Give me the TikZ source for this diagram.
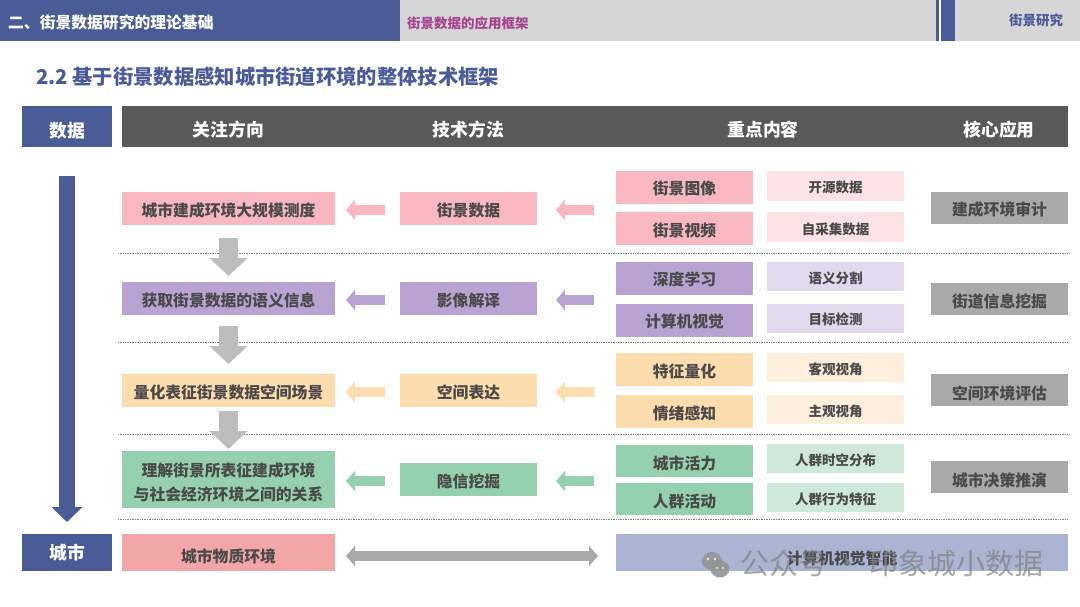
\documentclass[tikz,border=0pt]{standalone}
\usepackage{fontspec}
\setmainfont{Noto Sans CJK SC}
\usetikzlibrary{arrows.meta,calc}
\definecolor{cblue}{HTML}{4A5C97}
\definecolor{cbar}{HTML}{D6D6D6}
\definecolor{cdark}{HTML}{595959}
\definecolor{ctxt}{HTML}{4A4A4A}
\definecolor{cmag}{HTML}{A5458F}
\definecolor{cpink}{HTML}{F8B7C1}
\definecolor{cpinkl}{HTML}{FDE2E6}
\definecolor{cpur}{HTML}{B9A3D3}
\definecolor{cpurl}{HTML}{E3D9EF}
\definecolor{cora}{HTML}{FDDCAE}
\definecolor{coral}{HTML}{FEEEDC}
\definecolor{cgrn}{HTML}{95D1AE}
\definecolor{cgrnl}{HTML}{CEE9D9}
\definecolor{ccore}{HTML}{A9A9A9}
\definecolor{cred}{HTML}{F2A6A5}
\definecolor{cperi}{HTML}{ABB4D3}
\definecolor{cgarrow}{HTML}{BDBDBD}
\tikzset{
  bx/.style={inner sep=0pt,outer sep=0pt,align=center,text=ctxt,font=\fontsize{15.8}{24}\selectfont\bfseries},
  dy/.code={\def\bxdy{#1}},
  small/.style={font=\fontsize{13.5}{18}\selectfont\bfseries,dy=6pt},
  head/.style={text=white,font=\fontsize{17.8}{22}\selectfont\bfseries},
  blockarrow/.style={draw=#1,line width=9.5pt,-{Triangle[length=9pt,width=20pt,fill=#1]},shorten >=11pt,shorten <=15pt,transform canvas={yshift=-1.5pt}},
  blockarrowb/.style={draw=#1,line width=9.5pt,-{Triangle[length=9pt,width=20pt,fill=#1]},shorten >=19pt,shorten <=22pt,transform canvas={yshift=-1.5pt}},
  downarrow/.style={draw=cgarrow,line width=19pt,-{Triangle[length=18pt,width=37pt,fill=cgarrow]}},
  sep/.style={draw=gray,line width=0.7pt,densely dotted},
}
\newcommand{\bxn}[8]{\node[bx,dy=4pt,fill=#6,minimum width={(#4-#2)*1pt},minimum height={(#5-#3)*1pt},#7] (#1) at ({(#2+#4)/2},{(#3+#5)/2}) {\raisebox{\dimexpr-0.5\dimexpr\bxdy\relax-0.25em-1pt\relax}[0pt][0pt]{\begin{tabular}{@{}c@{}}#8\end{tabular}}};}
\begin{document}
\begin{tikzpicture}[x=1pt,y=-1pt]
\useasboundingbox (0,0) rectangle (1080,607);
% top bar
\bxn{barA}{0}{0}{400}{41}{cblue}{}{}
\bxn{barB}{400}{0}{936}{41}{cbar}{}{}
\bxn{barC}{936}{0}{939}{41}{cblue}{}{}
\bxn{barD}{941}{0}{955}{41}{cblue}{}{}
\bxn{barE}{955}{0}{1080}{41}{cbar}{}{}
\node[anchor=west,inner sep=0,text=white,font=\fontsize{15.8}{20}\selectfont\bfseries] (tA) at (8,22) {二、街景数据研究的理论基础};
\node[anchor=west,inner sep=0,text=cmag,font=\fontsize{13.5}{18}\selectfont\bfseries] (tB) at (407,23) {街景数据的应用框架};
\node[anchor=west,inner sep=0,text=cblue,font=\fontsize{13.5}{18}\selectfont\bfseries] (tE) at (1009,20) {街景研究};
\node[anchor=west,inner sep=0,text=cblue,font=\fontsize{20.3}{24}\selectfont\bfseries] (title) at (36,77) {2.2 基于街景数据感知城市街道环境的整体技术框架};
% header
\bxn{hData}{22}{106}{112}{147}{cblue}{head,dy=10pt}{数据}
\bxn{hBar}{122}{106}{1068}{147}{cdark}{}{}
\node[bx,head] (h1) at (228.5,130) {关注方向};
\node[bx,head] (h2) at (468.5,130) {技术方法};
\node[bx,head] (h3) at (763,130) {重点内容};
\node[bx,head] (h4) at (999,130) {核心应用};
% separators
\coordinate (s1a) at (118,253); \coordinate (s1b) at (1068,253);
\coordinate (s2a) at (118,342); \coordinate (s2b) at (1068,342);
\coordinate (s3a) at (118,434); \coordinate (s3b) at (1068,434);
\coordinate (s4a) at (118,519); \coordinate (s4b) at (1068,519);
\draw[sep] (s1a)--(s1b); \draw[sep] (s2a)--(s2b); \draw[sep] (s3a)--(s3b); \draw[sep] (s4a)--(s4b);
% row 1
\bxn{l1}{122}{192}{335}{225}{cpink}{}{城市建成环境大规模测度}
\bxn{t1}{400}{192}{537}{225}{cpink}{}{街景数据}
\bxn{a1}{616}{171}{753}{204}{cpink}{dy=2pt}{街景图像}
\bxn{b1}{616}{212}{753}{245}{cpink}{}{街景视频}
\bxn{c1}{767}{171}{904}{201}{cpinkl}{small,dy=4pt}{开源数据}
\bxn{d1}{767}{212}{904}{242}{cpinkl}{small}{自采集数据}
\bxn{e1}{931}{192}{1068}{224}{ccore}{dy=2pt}{建成环境审计}
% row 2
\bxn{l2}{122}{282}{335}{315}{cpur}{}{获取街景数据的语义信息}
\bxn{t2}{400}{282}{537}{315}{cpur}{}{影像解译}
\bxn{a2}{616}{262}{753}{295}{cpur}{dy=2pt}{深度学习}
\bxn{b2}{616}{304}{753}{337}{cpur}{dy=2pt}{计算机视觉}
\bxn{c2}{767}{262}{904}{291}{cpurl}{small}{语义分割}
\bxn{d2}{767}{304}{904}{333}{cpurl}{small,dy=4pt}{目标检测}
\bxn{e2}{931}{283}{1068}{315}{ccore}{dy=4pt}{街道信息挖掘}
% row 3
\bxn{l3}{122}{374}{335}{407}{cora}{}{量化表征街景数据空间场景}
\bxn{t3}{400}{374}{537}{407}{cora}{}{空间表达}
\bxn{a3}{616}{353}{753}{386}{cora}{}{特征量化}
\bxn{b3}{616}{395}{753}{428}{cora}{}{情绪感知}
\bxn{c3}{767}{353}{904}{382}{coral}{small}{客观视角}
\bxn{d3}{767}{395}{904}{424}{coral}{small}{主观视角}
\bxn{e3}{931}{374}{1068}{406}{ccore}{dy=6pt}{空间环境评估}
% row 4
\bxn{l4}{122}{451}{335}{508}{cgrn}{dy=5pt}{理解街景所表征建成环境\\与社会经济环境之间的关系}
\bxn{t4}{400}{463}{537}{496}{cgrn}{}{隐信挖掘}
\bxn{a4}{616}{445}{753}{477}{cgrn}{}{城市活力}
\bxn{b4}{616}{483}{753}{515}{cgrn}{}{人群活动}
\bxn{c4}{767}{444}{904}{473}{cgrnl}{small}{人群时空分布}
\bxn{d4}{767}{483}{904}{512}{cgrnl}{small}{人群行为特征}
\bxn{e4}{931}{461}{1068}{493}{ccore}{dy=6pt}{城市决策推演}
% city
\bxn{hCity}{22}{534}{112}{571}{cblue}{head,dy=2pt}{城市}
\bxn{m1}{122}{534}{335}{571}{cred}{dy=8pt}{城市物质环境}
\bxn{m2}{616}{534}{1068}{571}{cperi}{}{}
\node[bx] (m2t) at (842,558) {计算机视觉智能};
% block arrows
\foreach \i/\c in {1/cpink,2/cpur,3/cora,4/cgrn}{
  \draw[blockarrow=\c] (t\i.west) -- (l\i.east |- t\i.west);
  \coordinate (j\i) at ($(a\i.west)!.5!(b\i.west)$);
  \draw[blockarrowb=\c] (j\i |- t\i.east) -- (t\i.east);
}
% down arrows
\coordinate (da1) at (228.5,238); \coordinate (db1) at (228.5,276);
\coordinate (da2) at (228.5,326); \coordinate (db2) at (228.5,364);
\coordinate (da3) at (228.5,411); \coordinate (db3) at (228.5,449);
\draw[downarrow] (da1) -- (db1);
\draw[downarrow] (da2) -- (db2);
\draw[downarrow] (da3) -- (db3);
% big flow arrow
\coordinate (flowtop) at (67,176);
\coordinate (flowend) at (67,522);
\draw[draw=cblue,line width=16pt,-{Triangle[length=15pt,width=30pt,fill=cblue]}] (flowtop) -- (flowend);
% double arrow
\draw[draw=ccore,line width=9.5pt,{Triangle[length=9pt,width=20pt,fill=ccore]}-{Triangle[length=9pt,width=20pt,fill=ccore]},shorten <=11pt,shorten >=18pt,transform canvas={yshift=-3.5pt}] (m1.east) -- (m2.west);
% watermark
\fill[gray!85,opacity=.85] (712,561) ellipse (10 and 9);
\fill[gray!85,opacity=.9] (720,569) ellipse (9.5 and 8.5);
\fill[white,opacity=.8] (708,559) circle (1.3) (715,559) circle (1.3) (717,568) circle (1.2) (723,568) circle (1.2);
\node[anchor=west,inner sep=0,text=gray,opacity=.7,font=\fontsize{29}{32}\selectfont] (wm) at (740,563) {公众号 · 印象城小数据};
\end{tikzpicture}
\end{document}
